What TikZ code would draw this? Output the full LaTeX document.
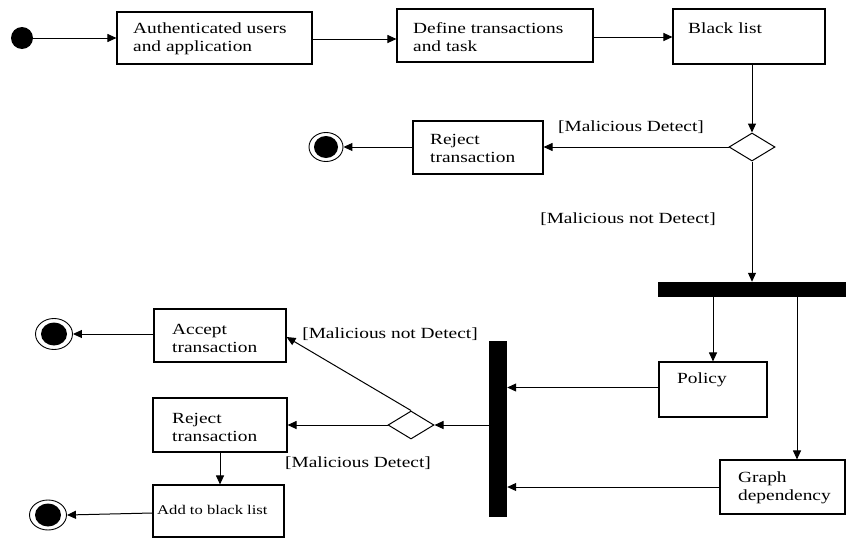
\documentclass[tikz,border=0pt]{standalone}
\usepackage{fontspec}
\setmainfont{Liberation Serif}[FakeStretch=1.25]
\usetikzlibrary{arrows.meta,shapes.geometric}
\begin{document}
\begin{tikzpicture}[x=1pt,y=-1pt,
  box/.style={draw,line width=1.1pt,rectangle,inner sep=0pt},
  txt/.style={anchor=west,align=left,inner sep=0pt,font=\fontsize{15.5}{18}\selectfont},
  lbl/.style={inner sep=0pt,font=\fontsize{15.5}{18}\selectfont},
  dec/.style={draw,line width=1pt,diamond,inner sep=0pt,minimum width=46pt,minimum height=28pt},
  bar/.style={fill=black,inner sep=0pt,rectangle},
  fin/.style={draw,line width=0.9pt,ellipse,inner sep=0pt,minimum width=34pt,minimum height=29pt},
  flow/.style={line width=1pt,-{Triangle[length=9pt,width=8pt]}}]
\useasboundingbox (0,0) rectangle (846,538);

% start
\node[circle,fill=black,inner sep=0pt,minimum size=22pt] (start) at (22,38) {};

% boxes
\node[box,minimum width=195pt,minimum height=52pt] (b1) at (214.5,38) {};
\node[box,minimum width=196pt,minimum height=53pt] (b2) at (495,35.5) {};
\node[box,minimum width=152pt,minimum height=55pt] (b3) at (749,36.5) {};
\node[box,minimum width=130pt,minimum height=53pt] (r1) at (478,147.5) {};
\node[box,minimum width=108pt,minimum height=55pt] (pol) at (713,389.5) {};
\node[box,minimum width=125pt,minimum height=54pt] (g) at (782.5,487) {};
\node[box,minimum width=132pt,minimum height=53pt] (acc) at (220,335.5) {};
\node[box,minimum width=134pt,minimum height=54pt] (rj2) at (220,425) {};
\node[box,minimum width=131pt,minimum height=52pt] (add) at (218.5,511) {};

% texts
\node[txt] (t1) at (133,39) {Authenticated users\\and application};
\node[txt] (t2) at (413,37) {Define transactions\\and task};
\node[txt] (t3) at (688,28) {Black list};
\node[txt] (t4) at (430,148) {Reject\\transaction};
\node[txt] (t5) at (677,380) {Policy};
\node[txt] (t6) at (738,488) {Graph\\dependency};
\node[txt] (t7) at (172,338) {Accept\\transaction};
\node[txt] (t8) at (172,427) {Reject\\transaction};
\node[txt,font=\fontsize{13.3}{16}\selectfont] (t9) at (157,510) {Add to black list};

% decisions
\node[dec] (d1) at (752,147) {};
\node[dec] (d2) at (411,425) {};

% bars
\node[bar,minimum width=188pt,minimum height=15pt] (fork) at (752,289.5) {};
\node[bar,minimum width=18pt,minimum height=176pt] (join) at (498,429) {};

% finals
\node[fin] (f1) at (326,147) {};
\fill (f1.center) ellipse (12pt and 11pt);
\node[fin,minimum width=37pt,minimum height=31pt] (f2) at (54,334) {};
\fill (f2.center) ellipse (13pt and 11.5pt);
\node[fin,minimum width=37pt,minimum height=30pt] (f3) at (48,515) {};
\fill (f3.center) ellipse (13pt and 11.5pt);

% guard labels
\node[lbl] (l1) at (631,127) {[Malicious Detect]};
\node[lbl] (l2) at (628,219) {[Malicious not Detect]};
\node[lbl] (l3) at (390,334) {[Malicious not Detect]};
\node[lbl] (l4) at (358,463) {[Malicious Detect]};

% flows
\draw[flow] (start) -- (start -| b1.west);
\draw[flow] ([yshift=-1pt]b1.east) -- ([yshift=-1pt]b1.east -| b2.west);
\draw[flow] ([yshift=-1.5pt]b2.east) -- ([yshift=-1.5pt]b2.east -| b3.west);
\draw[flow] (d1.north |- b3.south) -- (d1.north);
\draw[flow] (d1.west) -- (d1.west -| r1.east);
\draw[flow] (r1.west |- f1) -- (f1.east);
\draw[flow] (d1.south) -- (d1.south |- fork.north);
\draw[flow] (pol.north |- fork.south) -- (pol.north);
\draw[flow] ([xshift=14.5pt]g.north |- fork.south) -- ([xshift=14.5pt]g.north);
\draw[flow] ([yshift=2pt]pol.west) -- ([yshift=2pt]pol.west -| join.east);
\draw[flow] (g.west) -- (g.west -| join.east);
\draw[flow] (d2.east -| join.west) -- (d2.east);
\draw[flow] (d2.west) -- (d2.west -| rj2.east);
\draw[flow] (d2.north) -- ([yshift=-1.5pt]acc.east);
\draw[flow] (acc.west |- f2) -- (f2.east);
\draw[flow] (rj2.south) -- (rj2.south |- add.north);
\draw[flow] ([yshift=-2pt]add.west) -- (f3.east);
\end{tikzpicture}
\end{document}
